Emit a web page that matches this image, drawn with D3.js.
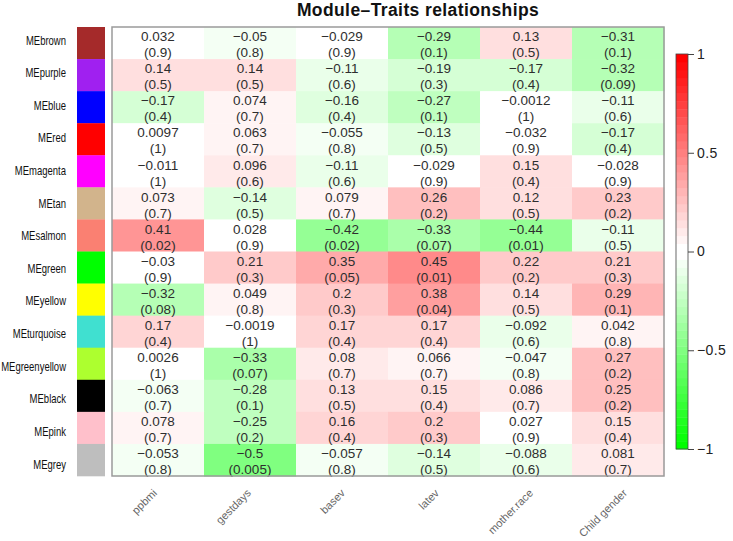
<!DOCTYPE html>
<html><head><meta charset="utf-8">
<script src="https://cdn.jsdelivr.net/npm/d3@7"></script>
<style>body{margin:0;background:#fff}</style>
</head><body>
<svg id="chart" width="733" height="541"></svg>
<script>
const modules = ["MEbrown","MEpurple","MEblue","MEred","MEmagenta","MEtan","MEsalmon","MEgreen","MEyellow","MEturquoise","MEgreenyellow","MEblack","MEpink","MEgrey"];
const moduleColors = ["#A52A2A","#A020F0","#0000FF","#FF0000","#FF00FF","#D2B48C","#FA8072","#00FF00","#FFFF00","#40E0D0","#ADFF2F","#000000","#FFC0CB","#BEBEBE"];
const traits = ["ppbmi","gestdays","basev","latev","mother.race","Child gender"];
const corLabels = [
 ["0.032","−0.05","−0.029","−0.29","0.13","−0.31"],
 ["0.14","0.14","−0.11","−0.19","−0.17","−0.32"],
 ["−0.17","0.074","−0.16","−0.27","−0.0012","−0.11"],
 ["0.0097","0.063","−0.055","−0.13","−0.032","−0.17"],
 ["−0.011","0.096","−0.11","−0.029","0.15","−0.028"],
 ["0.073","−0.14","0.079","0.26","0.12","0.23"],
 ["0.41","0.028","−0.42","−0.33","−0.44","−0.11"],
 ["−0.03","0.21","0.35","0.45","0.22","0.21"],
 ["−0.32","0.049","0.2","0.38","0.14","0.29"],
 ["0.17","−0.0019","0.17","0.17","−0.092","0.042"],
 ["0.0026","−0.33","0.08","0.066","−0.047","0.27"],
 ["−0.063","−0.28","0.13","0.15","0.086","0.25"],
 ["0.078","−0.25","0.16","0.2","0.027","0.15"],
 ["−0.053","−0.5","−0.057","−0.14","−0.088","0.081"]
];
const pLabels = [
 ["0.9","0.8","0.9","0.1","0.5","0.1"],
 ["0.5","0.5","0.6","0.3","0.4","0.09"],
 ["0.4","0.7","0.4","0.1","1","0.6"],
 ["1","0.7","0.8","0.5","0.9","0.4"],
 ["1","0.6","0.6","0.9","0.4","0.9"],
 ["0.7","0.5","0.7","0.2","0.5","0.2"],
 ["0.02","0.9","0.02","0.07","0.01","0.5"],
 ["0.9","0.3","0.05","0.01","0.2","0.3"],
 ["0.08","0.8","0.3","0.04","0.5","0.1"],
 ["0.4","1","0.4","0.4","0.6","0.8"],
 ["1","0.07","0.7","0.7","0.8","0.2"],
 ["0.7","0.1","0.5","0.4","0.7","0.2"],
 ["0.7","0.2","0.4","0.3","0.9","0.4"],
 ["0.8","0.005","0.8","0.5","0.6","0.7"]
];
const legendTicks = [1, 0.5, 0, -0.5, -1];

const svg = d3.select("#chart");
const pLeft = 112, pRight = 664, pTop = 27, pBottom = 476;
const x = d3.scaleBand().domain(traits).range([pLeft, pRight]);
const y = d3.scaleBand().domain(modules).range([pTop, pBottom]);
const xLab = d3.scalePoint().domain(traits).range([155, 625]);
const yLab = d3.scalePoint().domain(modules).range([40, 464]);

// WGCNA-like green-white-red palette with 50 bins
const nCol = 50, half = 25;
const palette = [];
for (let i = 0; i < half; i++) { const f = i / (half - 1); palette.push(d3.rgb(255 * f, 255, 255 * f).toString()); }
for (let i = 0; i < half; i++) { const f = 1 - i / (half - 1); palette.push(d3.rgb(255, 255 * f, 255 * f).toString()); }
const color = d3.scaleQuantize().domain([-1, 1]).range(palette);
const num = s => +s.replace("−", "-");

const cells = [];
modules.forEach((m, i) => traits.forEach((t, j) => cells.push({m, t, v: num(corLabels[i][j]), lab: corLabels[i][j], p: pLabels[i][j]})));

svg.append("g").selectAll("rect").data(cells).join("rect")
  .attr("x", d => x(d.t)).attr("y", d => y(d.m))
  .attr("width", x.bandwidth() + 0.5).attr("height", y.bandwidth() + 0.5)
  .attr("fill", d => color(d.v));

const tg = svg.append("g").attr("font-family", "Liberation Sans, Arial, sans-serif").attr("font-size", 13.5).attr("fill", "#2e2e2e").attr("text-anchor", "middle");
tg.selectAll("text.v").data(cells).join("text").attr("class", "v")
  .attr("x", d => x(d.t) + x.bandwidth() / 2).attr("y", d => y(d.m) + y.bandwidth() / 2 - 6.5).attr("dy", "0.35em").text(d => d.lab);
tg.selectAll("text.p").data(cells).join("text").attr("class", "p")
  .attr("x", d => x(d.t) + x.bandwidth() / 2).attr("y", d => y(d.m) + y.bandwidth() / 2 + 9.5).attr("dy", "0.35em").text(d => "(" + d.p + ")");

svg.append("rect").attr("x", pLeft).attr("y", pTop).attr("width", pRight - pLeft).attr("height", pBottom - pTop)
  .attr("fill", "none").attr("stroke", "#9a9a9a").attr("stroke-width", 1.5);

// module swatches
svg.append("g").selectAll("rect").data(modules).join("rect")
  .attr("x", 77).attr("y", d => y(d)).attr("width", 28).attr("height", y.bandwidth() + 0.3)
  .attr("fill", (d, i) => moduleColors[i]);

// row labels (condensed)
svg.append("g").selectAll("text").data(modules).join("text")
  .attr("transform", d => `translate(66,${yLab(d)}) scale(0.73,1)`)
  .attr("dy", "0.35em")
  .attr("text-anchor", "end").attr("font-family", "Liberation Sans, Arial, sans-serif")
  .attr("font-size", 13).attr("fill", "#111").text(d => d);

// column labels
svg.append("g").selectAll("text").data(traits).join("text")
  .attr("transform", d => `translate(${xLab(d)},${pBottom + 15}) rotate(-45)`)
  .attr("text-anchor", "end").attr("dy", "0.35em")
  .attr("font-family", "Liberation Sans, Arial, sans-serif").attr("font-size", 11).attr("fill", "#666").text(d => d);

// title
svg.append("text").attr("x", 418).attr("y", 15.5).attr("text-anchor", "middle")
  .attr("font-family", "Liberation Sans, Arial, sans-serif").attr("font-weight", "bold").attr("font-size", 17.5)
  .attr("letter-spacing", 0.4).attr("fill", "#111").text("Module–Traits relationships");

// legend
const ly = d3.scaleLinear().domain([-1, 1]).range([449, 54]);
const lg = svg.append("g");
const lx = 676, lw = 12;
lg.selectAll("rect").data(palette).join("rect")
  .attr("x", lx).attr("width", lw)
  .attr("y", (d, i) => ly(-1 + (i + 1) * 2 / nCol)).attr("height", (ly(-1) - ly(1)) / nCol + 0.4)
  .attr("fill", d => d);
lg.append("rect").attr("x", lx).attr("y", 54).attr("width", lw).attr("height", 395)
  .attr("fill", "none").attr("stroke", "#444").attr("stroke-width", 0.8);
const axis = d3.axisRight(ly).tickValues(legendTicks).tickSize(6).tickPadding(3)
  .tickFormat(d => d === 0 ? "0" : (d < 0 ? "−" + Math.abs(d) : String(d)));
const ag = lg.append("g").attr("transform", `translate(${lx + lw},0)`).call(axis);
ag.select(".domain").remove();
ag.selectAll("line").attr("stroke", "#444");
ag.selectAll("text").attr("font-family", "Liberation Sans, Arial, sans-serif").attr("font-size", 14).attr("letter-spacing", 0.4).attr("fill", "#222");
</script>
</body></html>
